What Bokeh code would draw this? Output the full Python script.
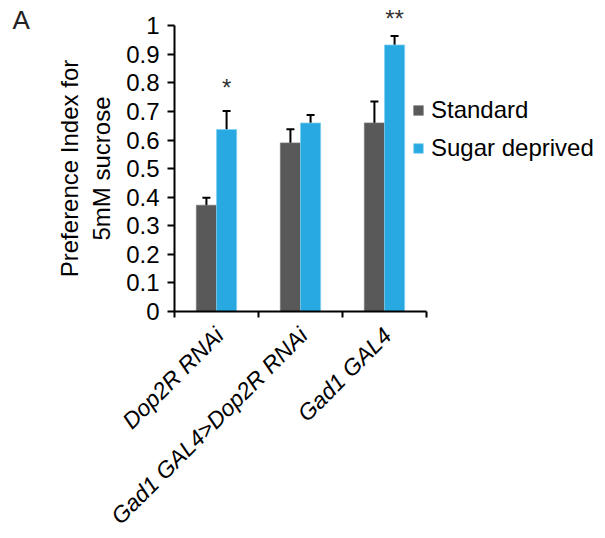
import numpy as np
from bokeh.plotting import figure
from bokeh.models import (ColumnDataSource, Range1d, FixedTicker, Whisker, TeeHead,
                          Legend, LegendItem, Label)
from bokeh.core.properties import value
from bokeh.embed import file_html
from bokeh.resources import INLINE

# ---- data ----
categories = ["Dop2R RNAi", "Gad1 GAL4>Dop2R RNAi", "Gad1 GAL4"]
series_names = ["Standard", "Sugar deprived"]
standard = [0.372, 0.590, 0.660]
standard_err = [0.026, 0.048, 0.075]
sugar_deprived = [0.637, 0.660, 0.933]
sugar_deprived_err = [0.065, 0.028, 0.031]
significance = ["*", "**"]
significance_cat = [0, 2]
significance_y = [0.785, 1.025]
y_ticks = [0, 0.1, 0.2, 0.3, 0.4, 0.5, 0.6, 0.7, 0.8, 0.9, 1]
y_tick_labels = ["0", "0.1", "0.2", "0.3", "0.4", "0.5", "0.6", "0.7", "0.8", "0.9", "1"]

FONT = "Liberation Sans"
DARK = "#595959"
BLUE = "#29A9E1"

# ---- layout (pixels) ----
W, H = 597, 530
X0_PX, Y0_PX = 174, 311      # position of the data origin inside the canvas
PX_X, PX_Y = 84.0, 285.7     # pixels per data unit
LABEL_SHIFT = 3 / PX_X       # category labels anchored slightly right of centre

centers = np.arange(len(categories)) + 0.5
bar_w = 0.24
std_x = centers - bar_w / 2
sd_x = centers + bar_w / 2

std_arr = np.array(standard)
std_e = np.array(standard_err)
sd_arr = np.array(sugar_deprived)
sd_e = np.array(sugar_deprived_err)

src_std = ColumnDataSource(dict(x=std_x, top=std_arr, upper=std_arr + std_e, lower=std_arr - std_e))
src_sd = ColumnDataSource(dict(x=sd_x, top=sd_arr, upper=sd_arr + sd_e, lower=sd_arr - sd_e))
src_sig = ColumnDataSource(dict(x=sd_x[significance_cat], y=significance_y, text=significance))

p = figure(width=W, height=H, output_backend="svg", toolbar_location=None,
           x_range=Range1d(-X0_PX / PX_X, (W - X0_PX) / PX_X),
           y_range=Range1d(-(H - Y0_PX) / PX_Y, Y0_PX / PX_Y),
           min_border=0, min_border_left=0, min_border_right=0,
           min_border_top=0, min_border_bottom=0)
p.outline_line_color = None
p.xgrid.visible = False
p.ygrid.visible = False
p.background_fill_color = "white"

r_std = p.vbar(x="x", top="top", width=bar_w, bottom=0, source=src_std,
               fill_color=DARK, line_color="#777777", line_width=0.7)
r_sd = p.vbar(x="x", top="top", width=bar_w, bottom=0, source=src_sd,
              fill_color=BLUE, line_color="#7fd0f0", line_width=0.7)

for src in (src_std, src_sd):
    w = Whisker(base="x", upper="upper", lower="lower", source=src,
                line_color="black", line_width=2,
                upper_head=TeeHead(size=8, line_width=2, line_color="black"),
                lower_head=TeeHead(size=8, line_width=2, line_color="black"))
    p.add_layout(w)

p.text(x="x", y="y", text="text", source=src_sig, text_align="center",
       text_baseline="alphabetic", text_font=value(FONT), text_font_size="24px",
       text_color="#333333")

# y axis
ya = p.yaxis[0]
ya.fixed_location = 0
ya.ticker = FixedTicker(ticks=y_ticks, minor_ticks=[])
ya.major_label_overrides = {t: l for t, l in zip(y_ticks, y_tick_labels)}
ya.bounds = (0, 1)
ya.axis_line_width = 2
ya.major_tick_line_width = 2
ya.major_tick_out = 7
ya.major_tick_in = 0
ya.minor_tick_out = 0
ya.minor_tick_in = 0
ya.major_label_standoff = 8
ya.major_label_text_font = FONT
ya.major_label_text_font_size = "24px"
ya.major_label_text_color = "black"
ya.axis_label = "Preference Index for\n5mM sucrose"
ya.axis_label_text_font = FONT
ya.axis_label_text_font_size = "24px"
ya.axis_label_text_font_style = "normal"
ya.axis_label_text_color = "black"
ya.axis_label_standoff = 8

# x axis
xa = p.xaxis[0]
xa.fixed_location = 0
xa.bounds = (0, 3)
xa.ticker = FixedTicker(ticks=list(centers + LABEL_SHIFT), minor_ticks=[0, 1, 2, 3])
xa.major_label_overrides = {float(c + LABEL_SHIFT): l for c, l in zip(centers, categories)}
xa.axis_line_width = 2
xa.major_tick_out = 0
xa.major_tick_in = 0
xa.minor_tick_out = 6
xa.minor_tick_in = 0
xa.minor_tick_line_width = 2
xa.minor_tick_line_color = "black"
xa.major_label_orientation = np.pi / 4
xa.major_label_standoff = 14
xa.major_label_text_font = FONT
xa.major_label_text_font_size = "23px"
xa.major_label_text_font_style = "italic"
xa.major_label_text_color = "black"

legend = Legend(items=[LegendItem(label=series_names[0], renderers=[r_std]),
                       LegendItem(label=series_names[1], renderers=[r_sd])],
                location=(412, 368), orientation="vertical",
                glyph_width=12, glyph_height=12, label_standoff=7, spacing=10,
                padding=0, margin=0, border_line_color=None, background_fill_alpha=0,
                label_text_font=FONT, label_text_font_size="24px", label_text_color="black")
p.add_layout(legend, "center")

p.add_layout(Label(x=12, y=H - 19, x_units="screen", y_units="screen", text="A",
                   text_baseline="alphabetic",
                   text_font=FONT, text_font_size="26px", text_color="#222222"))

open("out.html", "w").write(file_html(p, INLINE))
